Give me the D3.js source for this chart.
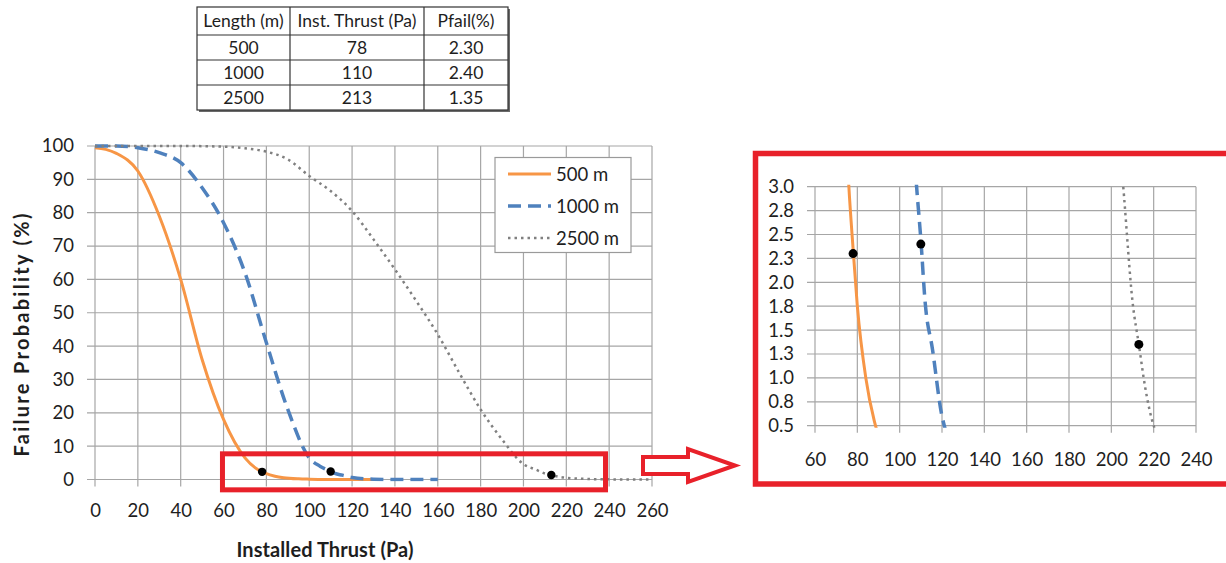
<!DOCTYPE html>
<html><head><meta charset="utf-8">
<script src="https://cdn.jsdelivr.net/npm/d3@7/dist/d3.min.js"></script>
<style>
body{margin:0;background:#fff}
svg{display:block}
text{font-family:Lato,'Open Sans',sans-serif;fill:#1e1e1e}
</style></head>
<body><svg id="c" width="1226" height="563"></svg>
<script>
// ---- data ----
const seriesNames = ["500 m", "1000 m", "2500 m"];
const thrust500 = [0,5,10,20,30,40,50,60,70,76,78,80,84,88,95,100,110,120,130];
const pfail500  = [99.5,99,97.8,92.5,79,60,36,18,6.5,3.0,2.35,1.75,1.0,0.55,0.2,0.1,0.02,0,0];
const thrust1000 = [0,10,20,30,40,50,60,70,80,90,100,105,108,110,112,115.5,120,130,140,150,160];
const pfail1000  = [100,100,99.5,98,95,87.5,77,62,41,21,6.5,4.0,3.0,2.45,1.8,1.3,0.6,0.1,0,0,0];
const thrust2500 = [0,20,40,60,70,80,90,100,110,120,130,140,150,160,170,180,190,200,206,210,213,216,220,230,240,250,260];
const pfail2500  = [100,100,100,99.8,99.3,98.3,96,91,86.5,80.5,72,63,53.5,43.5,32,21,12,4.6,2.9,1.8,1.35,0.9,0.5,0.15,0.05,0,0];

const tableHeaders = ["Length (m)", "Inst. Thrust (Pa)", "Pfail(%)"];
const tableLengths = ["500", "1000", "2500"];
const tableThrust  = [78, 110, 213];
const tablePfail   = ["2.30", "2.40", "1.35"];

const mainXTicks = [0,20,40,60,80,100,120,140,160,180,200,220,240,260];
const mainYTicks = [0,10,20,30,40,50,60,70,80,90,100];
const insetXTicks = [60,80,100,120,140,160,180,200,220,240];
const insetYTicks = [0.5,0.75,1.0,1.25,1.5,1.75,2.0,2.25,2.5,2.75,3.0];
const insetYTickLabels = ["0.5","0.8","1.0","1.3","1.5","1.8","2.0","2.3","2.5","2.8","3.0"];

const xTitle = "Installed Thrust (Pa)";
const yTitle = "Failure Probability (%)";

// ---- styles ----
const colors = ["#f79646", "#4f81bd", "#808080"];
const widths = [3, 3.5, 2.5];
const dashes = [null, "13,7", "2.5,4"];
const gridColor = "#a6a6a6";
const red = "#e8212a";
const FS = 18.5;

const svg = d3.select("#c");
const series = [
  {name: seriesNames[0], x: thrust500, y: pfail500},
  {name: seriesNames[1], x: thrust1000, y: pfail1000},
  {name: seriesNames[2], x: thrust2500, y: pfail2500}
];
const points = tableThrust.map((t, i) => ({x: t, y: +tablePfail[i]}));

// ---- table ----
const colX = [197, 290, 424, 508];
const rowY = [7, 35, 60, 85, 110];
const tg = svg.append("g");
tg.append("rect").attr("x", colX[0] + 2).attr("y", rowY[0] + 2)
  .attr("width", colX[3] - colX[0]).attr("height", rowY[4] - rowY[0]).attr("fill", "#6a6a6a");
tg.append("rect").attr("x", colX[0]).attr("y", rowY[0])
  .attr("width", colX[3] - colX[0]).attr("height", rowY[4] - rowY[0])
  .attr("fill", "#fff").attr("stroke", "#333").attr("stroke-width", 1.2);
colX.slice(1, 3).forEach(x => tg.append("line").attr("x1", x).attr("x2", x)
  .attr("y1", rowY[0]).attr("y2", rowY[4]).attr("stroke", "#333").attr("stroke-width", 1.2));
rowY.slice(1, 4).forEach(y => tg.append("line").attr("x1", colX[0]).attr("x2", colX[3])
  .attr("y1", y).attr("y2", y).attr("stroke", "#333").attr("stroke-width", 1.2));
const rows = [tableHeaders].concat(tableLengths.map((l, i) => [l, String(tableThrust[i]), tablePfail[i]]));
rows.forEach((r, ri) => r.forEach((c, ci) => {
  tg.append("text").attr("x", (colX[ci] + colX[ci + 1]) / 2)
    .attr("y", (rowY[ri] + rowY[ri + 1]) / 2 + 6)
    .attr("text-anchor", "middle").attr("font-size", 17.5).text(c);
}));

// ---- generic chart ----
function chart(opts) {
  const {x, y, xTicks, yTicks, yLabels, clipId, dotR} = opts;
  const g = svg.append("g");
  const [x0, x1] = x.range();
  const [y0, y1] = y.range(); // y0 bottom, y1 top
  g.selectAll(".hg").data(yTicks).join("line")
    .attr("x1", x0 - 8).attr("x2", x1).attr("y1", d => y(d)).attr("y2", d => y(d))
    .attr("stroke", gridColor).attr("stroke-width", 1.2);
  g.selectAll(".vg").data(xTicks).join("line")
    .attr("y1", y1).attr("y2", y0 + 7).attr("x1", d => x(d)).attr("x2", d => x(d))
    .attr("stroke", gridColor).attr("stroke-width", 1.2);
  const ax = g.append("g").attr("transform", `translate(0,${y0})`)
    .call(d3.axisBottom(x).tickValues(xTicks).tickSize(0).tickPadding(opts.xPad));
  const ay = g.append("g").attr("transform", `translate(${x0},0)`)
    .call(d3.axisLeft(y).tickValues(yTicks).tickSize(0).tickPadding(opts.yPad)
      .tickFormat((d, i) => yLabels ? yLabels[i] : d));
  [ax, ay].forEach(a => {
    a.select(".domain").remove();
    a.selectAll("text").attr("font-size", FS).attr("font-family", "Lato").attr("fill", "#1e1e1e");
  });
  svg.append("defs").append("clipPath").attr("id", clipId).append("rect")
    .attr("x", x0 - 2).attr("y", y1 - 2).attr("width", x1 - x0 + 4).attr("height", y0 - y1 + 4);
  const lg = g.append("g").attr("clip-path", `url(#${clipId})`);
  const line = d3.line().curve(d3.curveMonotoneX).x(d => x(d[0])).y(d => y(d[1]));
  series.forEach((s, i) => {
    lg.append("path").datum(s.x.map((v, j) => [v, s.y[j]]))
      .attr("d", line).attr("fill", "none").attr("stroke", colors[i])
      .attr("stroke-width", widths[i]).attr("stroke-dasharray", dashes[i]);
  });
  g.selectAll(".pt").data(points).join("circle")
    .attr("cx", d => x(d.x)).attr("cy", d => y(d.y)).attr("r", dotR).attr("fill", "#000");
  return g;
}

// main chart
const xMain = d3.scaleLinear().domain([0, 260]).range([95, 652]);
const yMain = d3.scaleLinear().domain([0, 100]).range([479.5, 146]);
chart({x: xMain, y: yMain, xTicks: mainXTicks, yTicks: mainYTicks, clipId: "cm", dotR: 4.2, xPad: 24, yPad: 21});

// legend
const leg = svg.append("g");
leg.append("rect").attr("x", 495).attr("y", 157.5).attr("width", 136).attr("height", 95)
  .attr("fill", "#fff").attr("stroke", "#9a9a9a").attr("stroke-width", 1.2);
seriesNames.forEach((n, i) => {
  const cy = 174 + i * 32;
  leg.append("line").attr("x1", 508).attr("x2", 551).attr("y1", cy).attr("y2", cy)
    .attr("stroke", colors[i]).attr("stroke-width", widths[i]).attr("stroke-dasharray", dashes[i]);
  leg.append("text").attr("x", 556).attr("y", cy + 6.5).attr("font-size", FS).text(n);
});

// axis titles
svg.append("text").attr("x", 325).attr("y", 557).attr("text-anchor", "middle")
  .attr("font-size", 20).attr("font-weight", "bold")
  .attr("textLength", 177).attr("lengthAdjust", "spacing").text(xTitle);
svg.append("text").attr("transform", "translate(29,335) rotate(-90)").attr("text-anchor", "middle")
  .attr("font-size", 20).attr("font-weight", "bold")
  .attr("textLength", 243).attr("lengthAdjust", "spacing").text(yTitle);

// highlight rect on main chart
const hl = {x0: 59.5, x1: 238.3, y0: -3.1, y1: 7.7};
svg.append("rect").attr("x", xMain(hl.x0)).attr("y", yMain(hl.y1))
  .attr("width", xMain(hl.x1) - xMain(hl.x0)).attr("height", yMain(hl.y0) - yMain(hl.y1))
  .attr("fill", "none").attr("stroke", red).attr("stroke-width", 5);

// arrow
svg.append("path")
  .attr("d", "M643,457 L688,457 L688,449 L735,465.5 L688,482 L688,474 L643,474 Z")
  .attr("fill", "#fff").attr("stroke", red).attr("stroke-width", 4).attr("stroke-linejoin", "miter");

// inset frame
svg.append("rect").attr("x", 755.5).attr("y", 153.5).attr("width", 480).attr("height", 330.5)
  .attr("fill", "#fff").attr("stroke", red).attr("stroke-width", 5.5);

// inset chart
const xIn = d3.scaleLinear().domain([60, 240]).range([815, 1196]);
const yIn = d3.scaleLinear().domain([0.5, 3.0]).range([425.7, 186.7]);
chart({x: xIn, y: yIn, xTicks: insetXTicks, yTicks: insetYTicks, yLabels: insetYTickLabels, clipId: "ci", dotR: 4.5, xPad: 27, yPad: 21});
</script></body></html>
